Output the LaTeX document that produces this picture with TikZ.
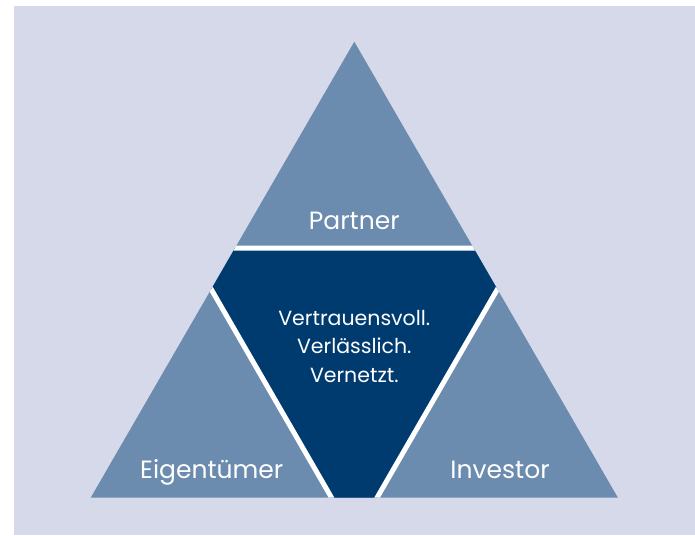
\documentclass[tikz,border=0pt]{standalone}
\usepackage{fontspec}
\setmainfont{Poppins}
\definecolor{bglav}{HTML}{D5D9EA}
\definecolor{steel}{HTML}{6B8BAF}
\definecolor{navy}{HTML}{003B70}
\tikzset{
  label/.style={text=white, anchor=base, inner sep=0pt, font=\fontsize{25}{30}\selectfont},
  inner/.style={text=white, anchor=base, inner sep=0pt, font=\fontsize{20.5}{28}\selectfont},
  sep/.style={draw=white, line width=5pt}
}
\begin{document}
\begin{tikzpicture}[x=1pt,y=-1pt]
\useasboundingbox (0,0) rectangle (695,535);
\fill[bglav] (14,6) rectangle (695,535);
% outer triangle
\coordinate (A) at (354.3,41.7);
\coordinate (B) at (90.7,497.7);
\coordinate (C) at (617.9,497.7);
\fill[steel] (A) -- (B) -- (C) -- cycle;
% inner inverted triangle
\coordinate (P) at (187.4,248);
\coordinate (Q) at (521.2,248);
\coordinate (R) at (354.3,537.1);
\begin{scope}
  \clip (A) -- (B) -- (C) -- cycle;
  \fill[navy] (P) -- (Q) -- (R) -- cycle;
  \draw[sep] (P) -- (Q) -- (R) -- cycle;
\end{scope}
\node[label] (partner) at (354.3,229) {Partner};
\node[label] (eigen) at (211.7,478.3) {Eigentümer};
\node[label] (invest) at (500,478.3) {Investor};
\node[inner] (v1) at (354.3,325) {Vertrauensvoll.};
\node[inner] (v2) at (354.3,353.5) {Verlässlich.};
\node[inner] (v3) at (354.3,382) {Vernetzt.};
\end{tikzpicture}
\end{document}
